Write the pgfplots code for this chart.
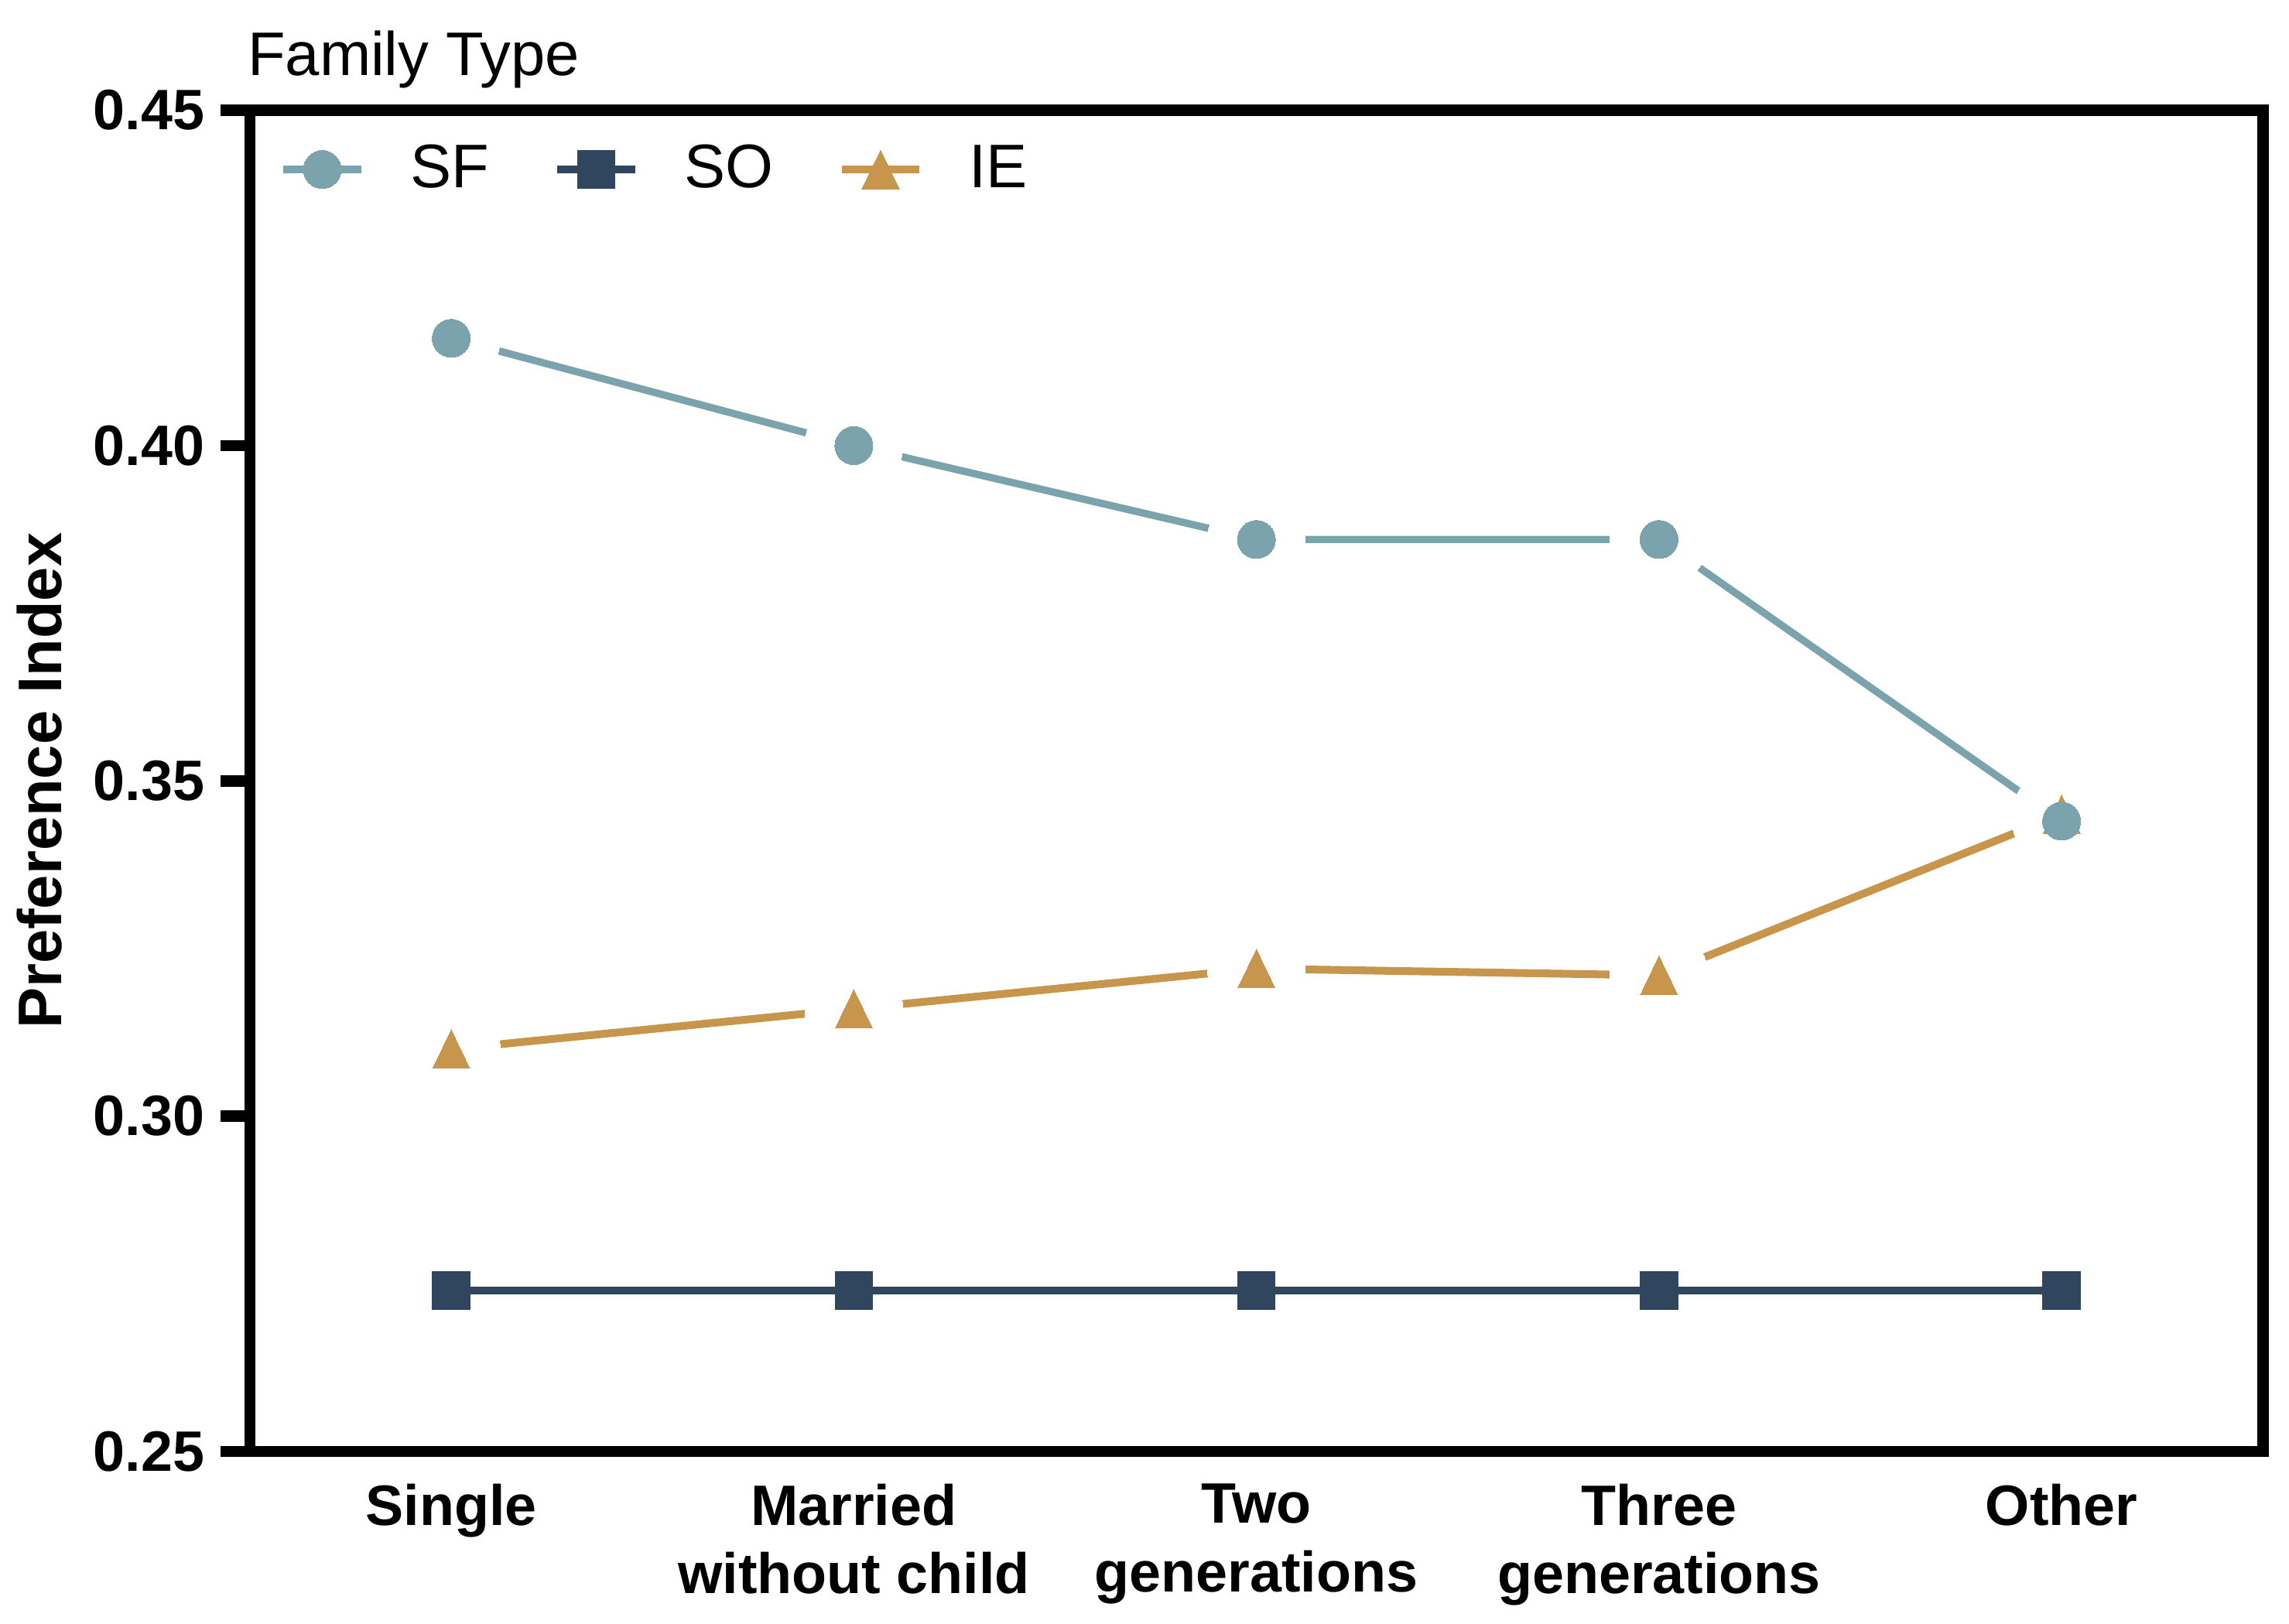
\documentclass[border=0pt]{standalone}
\usepackage{pgfplots}
\pgfplotsset{compat=1.18}
\usepackage{fontspec}
\setmainfont{Liberation Sans}
\definecolor{sfc}{HTML}{7BA3AD}
\definecolor{soc}{HTML}{30465E}
\definecolor{iec}{HTML}{C7954B}
\begin{document}
\begin{tikzpicture}
\begin{axis}[
  name=ax,
  scale only axis, width=439.7bp, height=293.0bp,
  xmin=-0.5, xmax=4.5, ymin=0.25, ymax=0.45,
  axis line style={line width=2.5bp},
  xtick={0,1,2,3,4},
  xticklabels={Single,{Married\\without child},{Two\\generations},{Three\\generations},Other},
  x tick style={draw=none},
  ytick={0.25,0.3,0.35,0.4,0.45},
  ytick pos=left, tick align=outside, major tick length=6.4bp,
  y tick style={line width=2.5bp, black},
  /pgf/number format/assume math mode=true,
  yticklabel style={font=\fontsize{12.5}{15}\selectfont\bfseries, /pgf/number format/.cd, fixed, fixed zerofill, precision=2},
  xticklabel style={font=\fontsize{12.5}{15}\selectfont\bfseries, align=center, yshift=2.8bp},
  ylabel={Preference Index},
  ylabel style={font=\fontsize{13.5}{16}\selectfont\bfseries, at={(axis description cs:-0.1045,0.5)}, anchor=center},
  title={Family Type},
  title style={font=\fontsize{13.5}{16}\selectfont, at={(axis description cs:0,1)}, anchor=base west, yshift=1.6bp, xshift=-4bp},
  legend style={at={(axis description cs:0,1)}, anchor=north west, draw=none, fill=none, inner sep=0pt,
    font=\fontsize{13.5}{16}\selectfont, xshift=6.3bp, yshift=-5.3bp,
    /tikz/every odd column/.append style={column sep=8bp},
    /tikz/every even column/.append style={column sep=12bp}},
  legend columns=-1,
]
% lines
\addplot[sfc, line width=1.6bp, forget plot] coordinates {(0,0.416) (1,0.400) (2,0.386) (3,0.386) (4,0.344)};
\addplot[iec, line width=1.7bp, forget plot] coordinates {(0,0.310) (1,0.316) (2,0.322) (3,0.321) (4,0.345)};
\addplot[soc, line width=1.7bp, forget plot] coordinates {(0,0.274) (1,0.274) (2,0.274) (3,0.274) (4,0.274)};
% halos (gaps around markers)
\addplot[white, only marks, mark=*, mark size=10.7bp, mark options={draw=white, fill=white, line width=0pt}, forget plot] coordinates {(0,0.416) (1,0.400) (2,0.386) (3,0.386) (4,0.344)};
\addplot[white, only marks, mark=*, mark size=10.7bp, mark options={draw=white, fill=white, line width=0pt}, forget plot] coordinates {(0,0.310) (1,0.316) (2,0.322) (3,0.321) (4,0.345)};
% markers
\addplot[iec, only marks, mark=triangle*, mark size=4.7bp, mark options={draw=iec, fill=iec, line width=0pt, yshift=-1.4bp, yscale=1.2}, forget plot] coordinates {(0,0.310) (1,0.316) (2,0.322) (3,0.321) (4,0.345)};
\addplot[sfc, only marks, mark=*, mark size=4.15bp, mark options={draw=sfc, fill=sfc, line width=0pt}, forget plot] coordinates {(0,0.416) (1,0.400) (2,0.386) (3,0.386) (4,0.344)};
\addplot[soc, only marks, mark=square*, mark size=4.1bp, mark options={draw=soc, fill=soc, line width=0pt}, forget plot] coordinates {(0,0.274) (1,0.274) (2,0.274) (3,0.274) (4,0.274)};
% legend
\addlegendimage{sfc, line width=1.6bp, mark=*, mark size=4.15bp, mark options={draw=sfc, fill=sfc, line width=0pt}}
\addlegendentry{SF}
\addlegendimage{soc, line width=1.7bp, mark=square*, mark size=4.1bp, mark options={draw=soc, fill=soc, line width=0pt}}
\addlegendentry{SO}
\addlegendimage{iec, line width=1.7bp, mark=triangle*, mark size=4.7bp, mark options={draw=iec, fill=iec, line width=0pt, yshift=-1.4bp, yscale=1.2}}
\addlegendentry{IE}
\end{axis}
\pgfresetboundingbox
\path ([xshift=-54.6bp,yshift=-37.7bp]ax.south west) rectangle ([xshift=5.7bp,yshift=24.1bp]ax.north east);
\end{tikzpicture}
\end{document}
